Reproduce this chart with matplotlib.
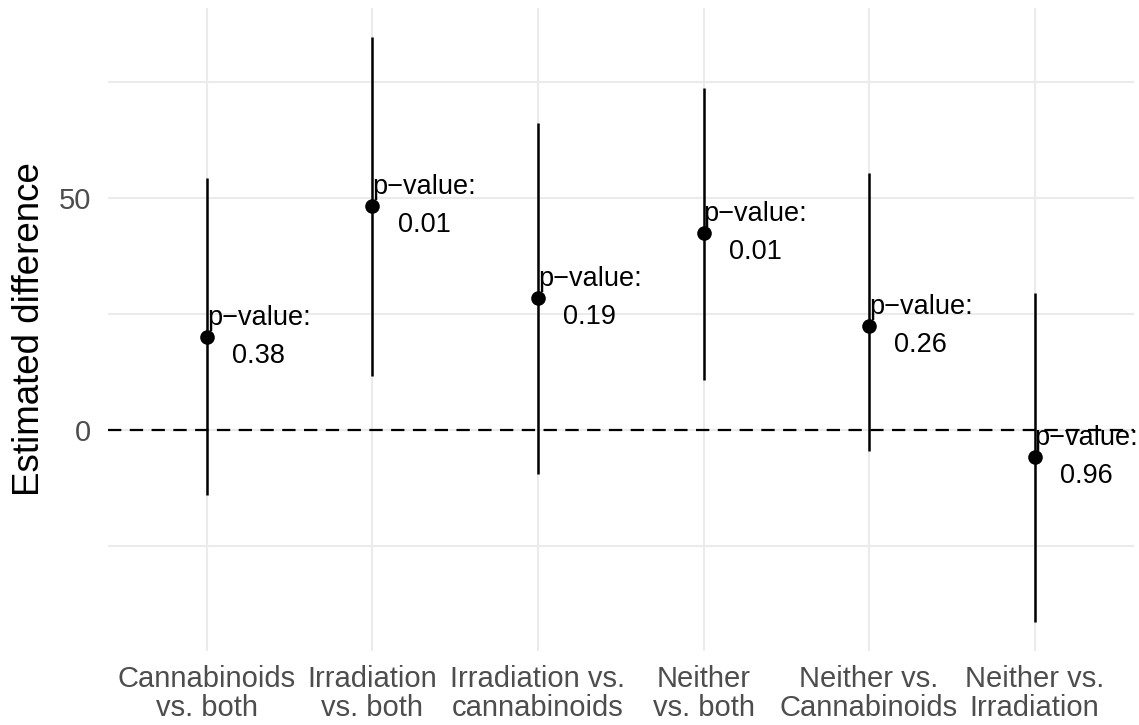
import matplotlib.pyplot as plt
import numpy as np

plt.rcParams['font.family'] = ['Liberation Sans', 'DejaVu Sans']

categories = ["Cannabinoids\nvs. both", "Irradiation\nvs. both", "Irradiation vs.\ncannabinoids",
              "Neither\nvs. both", "Neither vs.\nCannabinoids", "Neither vs.\nIrradiation"]
estimate = [20.0, 48.3, 28.4, 42.5, 22.4, -5.8]
lower = [-14.0, 11.6, -9.5, 10.8, -4.5, -41.4]
upper = [54.3, 84.7, 66.2, 73.7, 55.4, 29.5]
p_values = ["0.38", "0.01", "0.19", "0.01", "0.26", "0.96"]

fig = plt.figure(figsize=(11.39, 7.25), dpi=100)
ax = fig.add_axes([0.0945, 0.102, 0.901, 0.887])

x = np.arange(1, len(categories) + 1)

# grid like theme_minimal
grid_col = '#EBEBEB'
for v in [-25, 0, 25, 50, 75]:
    ax.axhline(v, color=grid_col, linewidth=1.5, zorder=0)
for xi in x:
    ax.axvline(xi, color=grid_col, linewidth=1.5, zorder=0)

ax.axhline(0, color='black', linewidth=1.6, linestyle=(0, (6, 3.8)), zorder=1)

ax.vlines(x, lower, upper, color='black', linewidth=1.8, zorder=2)
ax.scatter(x, estimate, s=90, color='black', zorder=3)

for xi, yi, p in zip(x, estimate, p_values):
    ax.text(xi, yi, "p\u2212value:\n" + p, ha='left', va='center', multialignment='center',
            fontsize=19.5, color='black', linespacing=1.6, zorder=4)

ymin, ymax = min(lower), max(upper)
span = ymax - ymin
ax.set_ylim(ymin - 0.05 * span, ymax + 0.05 * span)
ax.set_xlim(0.4, len(categories) + 0.6)

ax.set_yticks([0, 50])
ax.set_xticks(x)
ax.set_xticklabels(categories, linespacing=1.05)
ax.tick_params(axis='both', length=0, labelsize=21, labelcolor='#4D4D4D')
ax.tick_params(axis='y', pad=12)
ax.tick_params(axis='x', pad=10)

ax.set_ylabel("Estimated difference", fontsize=26.5, color='black', labelpad=8)

for s in ax.spines.values():
    s.set_visible(False)

fig.savefig("out.png", dpi=100)
